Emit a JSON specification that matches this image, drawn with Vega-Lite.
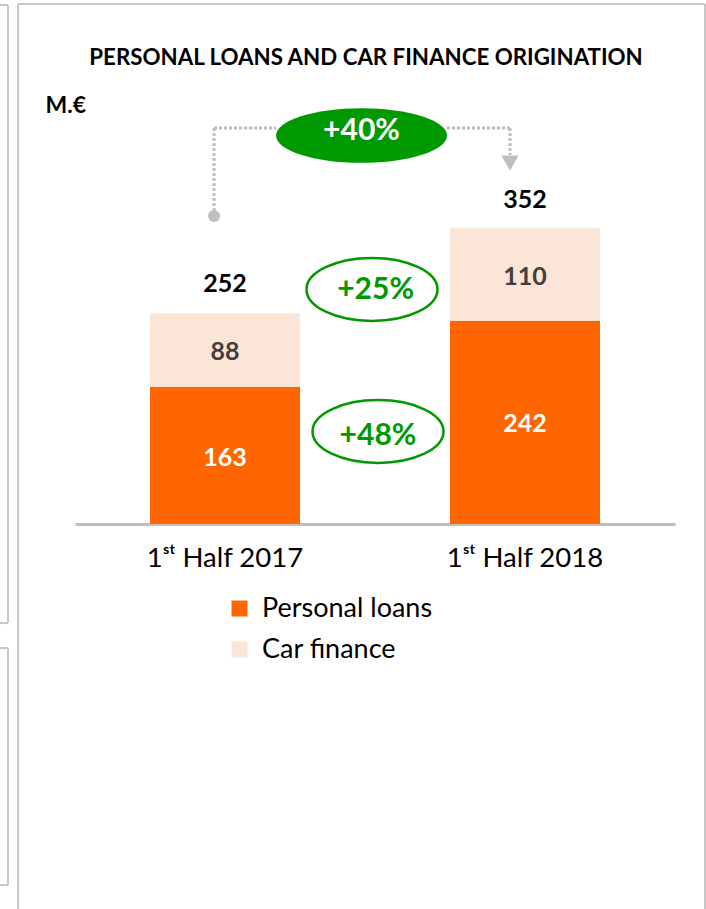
{
  "$schema": "https://vega.github.io/schema/vega-lite/v6.json",
  "width": 600,
  "height": 420,
  "autosize": {"type": "none"},
  "padding": {"left": 75, "top": 104, "right": 31, "bottom": 385},
  "background": "white",
  "config": {
    "view": {"stroke": null},
    "font": "Lato",
    "text": {"font": "Lato"}
  },
  "layer": [
    {
      "data": {
        "values": [
          {"period": "1st Half 2017", "segment": "Personal loans", "value": 163},
          {"period": "1st Half 2017", "segment": "Car finance", "value": 88},
          {"period": "1st Half 2018", "segment": "Personal loans", "value": 242},
          {"period": "1st Half 2018", "segment": "Car finance", "value": 110}
        ]
      },
      "encoding": {
        "x": {
          "field": "period",
          "type": "nominal",
          "sort": null,
          "scale": {"paddingInner": 0.5, "paddingOuter": 0.25},
          "axis": {
            "title": null,
            "labelAngle": 0,
            "labelFont": "Lato",
            "labelFontSize": 27.5,
            "labelColor": "#000000",
            "labelPadding": 20,
            "labelLimit": 0,
            "ticks": false,
            "domainColor": "#BFBFBF",
            "domainWidth": 3,
            "grid": false,
            "labelExpr": "replace(datum.label, '1st', '1ˢᵗ')"
          }
        }
      },
      "layer": [
        {
          "mark": {"type": "bar"},
          "encoding": {
            "y": {"field": "value", "type": "quantitative", "stack": "zero", "scale": {"domain": [0, 500], "nice": false, "zero": true}, "axis": null},
            "color": {
              "field": "segment",
              "type": "nominal",
              "scale": {"domain": ["Personal loans", "Car finance"], "range": ["#FF6600", "#FBE5D6"]},
              "legend": {
                "title": null,
                "orient": "none",
                "legendX": 151,
                "legendY": 491,
                "direction": "vertical",
                "symbolType": "square",
                "symbolSize": 256,
                "symbolStrokeWidth": 0,
                "labelFont": "Lato",
                "labelFontSize": 27,
                "labelColor": "#000000",
                "labelOffset": 9,
                "labelLimit": 0,
                "rowPadding": 13,
                "padding": 0
              }
            },
            "order": {"field": "segment", "sort": "descending"}
          }
        },
        {
          "mark": {"type": "text", "fontWeight": "bold", "fontSize": 25, "baseline": "middle", "align": "center", "dy": 2},
          "encoding": {
            "y": {"field": "value", "type": "quantitative", "stack": "zero", "bandPosition": 0.5, "scale": {"domain": [0, 500], "nice": false}},
            "detail": {"field": "segment"},
            "order": {"field": "segment", "sort": "descending"},
            "text": {"field": "value", "type": "quantitative"},
            "color": {"condition": {"test": "datum.segment === 'Personal loans'", "value": "#FFFFFF"}, "value": "#404040"}
          }
        },
        {
          "data": {
            "values": [
              {"period": "1st Half 2017", "total": 252},
              {"period": "1st Half 2018", "total": 352}
            ]
          },
          "mark": {"type": "text", "fontWeight": "bold", "fontSize": 25, "baseline": "middle", "align": "center", "dy": -28, "color": "#000000"},
          "encoding": {
            "y": {"field": "total", "type": "quantitative", "scale": {"domain": [0, 500], "nice": false}},
            "text": {"field": "total", "type": "quantitative"}
          }
        }
      ]
    },
    {
      "data": {"values": [{}]},
      "layer": [
        {"mark": {"type": "rule", "color": "#C8C8C8", "strokeWidth": 2}, "encoding": {"x": {"datum": -0.38, "type": "quantitative", "scale": {"domain": [0, 4], "nice": false, "zero": false}, "axis": null}, "y": {"datum": 619.05, "type": "quantitative", "scale": {"domain": [0, 500], "nice": false}}, "y2": {"datum": -458.3}}},
        {"mark": {"type": "rule", "color": "#C8C8C8", "strokeWidth": 2}, "encoding": {"x": {"datum": -0.38, "type": "quantitative", "scale": {"domain": [0, 4], "nice": false, "zero": false}, "axis": null}, "x2": {"datum": 4.2}, "y": {"datum": 619.05, "type": "quantitative", "scale": {"domain": [0, 500], "nice": false}}}},
        {"mark": {"type": "rule", "color": "#C8C8C8", "strokeWidth": 2}, "encoding": {"x": {"datum": 4.2, "type": "quantitative", "scale": {"domain": [0, 4], "nice": false, "zero": false}, "axis": null}, "y": {"datum": 619.05, "type": "quantitative", "scale": {"domain": [0, 500], "nice": false}}, "y2": {"datum": -458.3}}},
        {"mark": {"type": "rule", "color": "#C8C8C8", "strokeWidth": 2}, "encoding": {"x": {"datum": -0.4467, "type": "quantitative", "scale": {"domain": [0, 4], "nice": false, "zero": false}, "axis": null}, "y": {"datum": 617.9, "type": "quantitative", "scale": {"domain": [0, 500], "nice": false}}, "y2": {"datum": -117.9}}},
        {"mark": {"type": "rule", "color": "#C8C8C8", "strokeWidth": 2}, "encoding": {"x": {"datum": -0.5, "type": "quantitative", "scale": {"domain": [0, 4], "nice": false, "zero": false}, "axis": null}, "x2": {"datum": -0.4467}, "y": {"datum": -117.9, "type": "quantitative", "scale": {"domain": [0, 500], "nice": false}}}},
        {"mark": {"type": "rule", "color": "#C8C8C8", "strokeWidth": 2}, "encoding": {"x": {"datum": -0.5, "type": "quantitative", "scale": {"domain": [0, 4], "nice": false, "zero": false}, "axis": null}, "x2": {"datum": -0.4467}, "y": {"datum": 617.9, "type": "quantitative", "scale": {"domain": [0, 500], "nice": false}}}},
        {"mark": {"type": "rule", "color": "#C8C8C8", "strokeWidth": 2}, "encoding": {"x": {"datum": -0.5, "type": "quantitative", "scale": {"domain": [0, 4], "nice": false, "zero": false}, "axis": null}, "x2": {"datum": -0.4467}, "y": {"datum": -147.6, "type": "quantitative", "scale": {"domain": [0, 500], "nice": false}}}},
        {"mark": {"type": "rule", "color": "#C8C8C8", "strokeWidth": 2}, "encoding": {"x": {"datum": -0.4467, "type": "quantitative", "scale": {"domain": [0, 4], "nice": false, "zero": false}, "axis": null}, "y": {"datum": -147.6, "type": "quantitative", "scale": {"domain": [0, 500], "nice": false}}, "y2": {"datum": -429.8}}},
        {"mark": {"type": "rule", "color": "#C8C8C8", "strokeWidth": 2}, "encoding": {"x": {"datum": -0.5, "type": "quantitative", "scale": {"domain": [0, 4], "nice": false, "zero": false}, "axis": null}, "x2": {"datum": -0.4467}, "y": {"datum": -429.8, "type": "quantitative", "scale": {"domain": [0, 500], "nice": false}}}},

        {"mark": {"type": "rule", "color": "#BFBFBF", "strokeWidth": 3, "strokeDash": [3, 2]}, "encoding": {"x": {"datum": 0.927, "type": "quantitative", "scale": {"domain": [0, 4], "nice": false, "zero": false}, "axis": null}, "y": {"datum": 366.7, "type": "quantitative", "scale": {"domain": [0, 500], "nice": false}}, "y2": {"datum": 471.4}}},
        {"mark": {"type": "rule", "color": "#BFBFBF", "strokeWidth": 3, "strokeDash": [3, 2]}, "encoding": {"x": {"datum": 0.927, "type": "quantitative", "scale": {"domain": [0, 4], "nice": false, "zero": false}, "axis": null}, "x2": {"datum": 1.34}, "y": {"datum": 471.4, "type": "quantitative", "scale": {"domain": [0, 500], "nice": false}}}},
        {"mark": {"type": "rule", "color": "#BFBFBF", "strokeWidth": 3, "strokeDash": [3, 2]}, "encoding": {"x": {"datum": 2.48, "type": "quantitative", "scale": {"domain": [0, 4], "nice": false, "zero": false}, "axis": null}, "x2": {"datum": 2.9}, "y": {"datum": 471.4, "type": "quantitative", "scale": {"domain": [0, 500], "nice": false}}}},
        {"mark": {"type": "rule", "color": "#BFBFBF", "strokeWidth": 3, "strokeDash": [3, 2]}, "encoding": {"x": {"datum": 2.9, "type": "quantitative", "scale": {"domain": [0, 4], "nice": false, "zero": false}, "axis": null}, "y": {"datum": 471.4, "type": "quantitative", "scale": {"domain": [0, 500], "nice": false}}, "y2": {"datum": 439.3}}},
        {"mark": {"type": "point", "shape": "circle", "filled": true, "color": "#BFBFBF", "opacity": 1, "size": 144}, "encoding": {"x": {"datum": 0.927, "type": "quantitative", "scale": {"domain": [0, 4], "nice": false, "zero": false}, "axis": null}, "y": {"datum": 366.7, "type": "quantitative", "scale": {"domain": [0, 500], "nice": false}}}},
        {"mark": {"type": "point", "shape": "triangle-down", "filled": true, "color": "#BFBFBF", "opacity": 1, "size": 300}, "encoding": {"x": {"datum": 2.9, "type": "quantitative", "scale": {"domain": [0, 4], "nice": false, "zero": false}, "axis": null}, "y": {"datum": 429.8, "type": "quantitative", "scale": {"domain": [0, 500], "nice": false}}}},

        {"mark": {"type": "point", "shape": "M-1,0A1,0.32,0,1,1,1,0A1,0.32,0,1,1,-1,0Z", "filled": true, "color": "#009900", "opacity": 1, "size": 29241, "strokeWidth": 0}, "encoding": {"x": {"datum": 1.91, "type": "quantitative", "scale": {"domain": [0, 4], "nice": false, "zero": false}, "axis": null}, "y": {"datum": 462.5, "type": "quantitative", "scale": {"domain": [0, 500], "nice": false}}}},
        {"mark": {"type": "point", "shape": "M-1,0A1,0.48,0,1,1,1,0A1,0.48,0,1,1,-1,0Z", "filled": false, "color": "#009900", "opacity": 1, "size": 17161, "strokeWidth": 2.5}, "encoding": {"x": {"datum": 1.98, "type": "quantitative", "scale": {"domain": [0, 4], "nice": false, "zero": false}, "axis": null}, "y": {"datum": 279.2, "type": "quantitative", "scale": {"domain": [0, 500], "nice": false}}}},
        {"mark": {"type": "point", "shape": "M-1,0A1,0.48,0,1,1,1,0A1,0.48,0,1,1,-1,0Z", "filled": false, "color": "#009900", "opacity": 1, "size": 17161, "strokeWidth": 2.5}, "encoding": {"x": {"datum": 2.02, "type": "quantitative", "scale": {"domain": [0, 4], "nice": false, "zero": false}, "axis": null}, "y": {"datum": 110.1, "type": "quantitative", "scale": {"domain": [0, 500], "nice": false}}}},

        {"mark": {"type": "text", "text": "+40%", "fontWeight": "bold", "fontSize": 30, "color": "#FFFFFF", "align": "center", "baseline": "middle"}, "encoding": {"x": {"datum": 1.91, "type": "quantitative", "scale": {"domain": [0, 4], "nice": false, "zero": false}, "axis": null}, "y": {"datum": 467.9, "type": "quantitative", "scale": {"domain": [0, 500], "nice": false}}}},
        {"mark": {"type": "text", "text": "+25%", "fontWeight": "bold", "fontSize": 30, "color": "#009900", "align": "center", "baseline": "middle"}, "encoding": {"x": {"datum": 2.004, "type": "quantitative", "scale": {"domain": [0, 4], "nice": false, "zero": false}, "axis": null}, "y": {"datum": 278.6, "type": "quantitative", "scale": {"domain": [0, 500], "nice": false}}}},
        {"mark": {"type": "text", "text": "+48%", "fontWeight": "bold", "fontSize": 30, "color": "#009900", "align": "center", "baseline": "middle"}, "encoding": {"x": {"datum": 2.02, "type": "quantitative", "scale": {"domain": [0, 4], "nice": false, "zero": false}, "axis": null}, "y": {"datum": 104.8, "type": "quantitative", "scale": {"domain": [0, 500], "nice": false}}}},
        {"mark": {"type": "text", "text": "PERSONAL LOANS AND CAR FINANCE ORIGINATION", "fontWeight": "bold", "fontSize": 22.3, "color": "#000000", "align": "center", "baseline": "middle"}, "encoding": {"x": {"datum": 1.94, "type": "quantitative", "scale": {"domain": [0, 4], "nice": false, "zero": false}, "axis": null}, "y": {"datum": 554.8, "type": "quantitative", "scale": {"domain": [0, 500], "nice": false}}}},
        {"mark": {"type": "text", "text": "M.€", "fontWeight": "bold", "fontSize": 23, "color": "#000000", "align": "left", "baseline": "middle"}, "encoding": {"x": {"datum": -0.197, "type": "quantitative", "scale": {"domain": [0, 4], "nice": false, "zero": false}, "axis": null}, "y": {"datum": 498.2, "type": "quantitative", "scale": {"domain": [0, 500], "nice": false}}}}
      ]
    }
  ],
  "resolve": {"scale": {"x": "independent"}, "axis": {"x": "independent"}}
}
